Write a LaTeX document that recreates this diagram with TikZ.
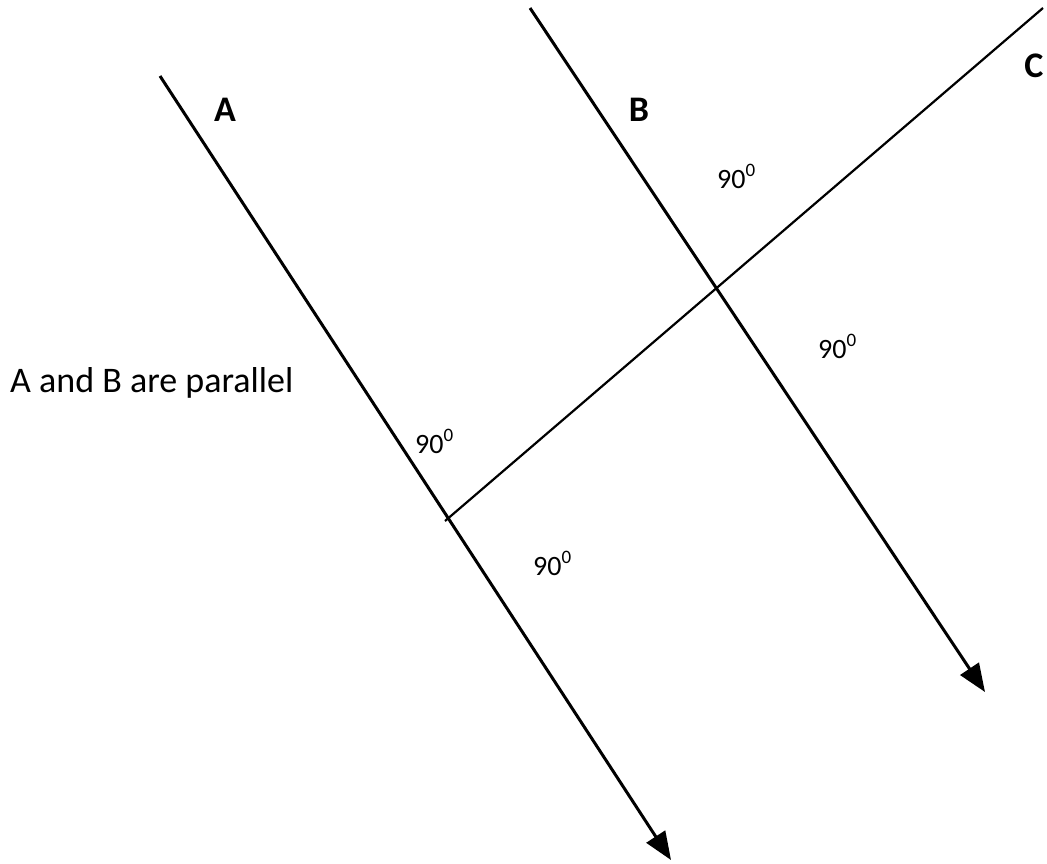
\documentclass[tikz,border=0pt]{standalone}
\usepackage{fontspec}
\setmainfont{Carlito}
\usetikzlibrary{arrows.meta}
\newcommand{\degsup}{\raisebox{0.42em}{\fontsize{19}{21}\selectfont 0}}
\begin{document}
\begin{tikzpicture}[x=1pt,y=-1pt,
  mainline/.style={line width=3pt,-{Triangle[length=28pt,width=22pt]}},
  crossline/.style={line width=2.2pt},
  letter/.style={font=\fontsize{36}{40}\selectfont\bfseries},
  angle/.style={anchor=base west,inner sep=0pt,font=\fontsize{28}{32}\selectfont},
  note/.style={anchor=base west,inner sep=0pt,font=\fontsize{36}{42}\selectfont}]
\useasboundingbox (0,0) rectangle (1047,863);
\coordinate (a1) at (160,76);
\coordinate (a2) at (671,860);
\coordinate (b1) at (530,8);
\coordinate (b2) at (985,692);
\coordinate (c1) at (1043,8);
\coordinate (c2) at (445,521);
\draw[mainline] (a1) -- (a2);
\draw[mainline] (b1) -- (b2);
\draw[crossline] (c1) -- (c2);
\node[letter] (la) at (225,110) {A};
\node[letter] (lb) at (639,110) {B};
\node[letter] (lc) at (1034,66) {C};
\node[angle] (g1) at (717,188) {90\degsup};
\node[angle] (g2) at (818,358) {90\degsup};
\node[angle] (g3) at (415,453) {90\degsup};
\node[angle] (g4) at (533,575) {90\degsup};
\node[note] (txt) at (10,392) {A and B are parallel};
\end{tikzpicture}
\end{document}
